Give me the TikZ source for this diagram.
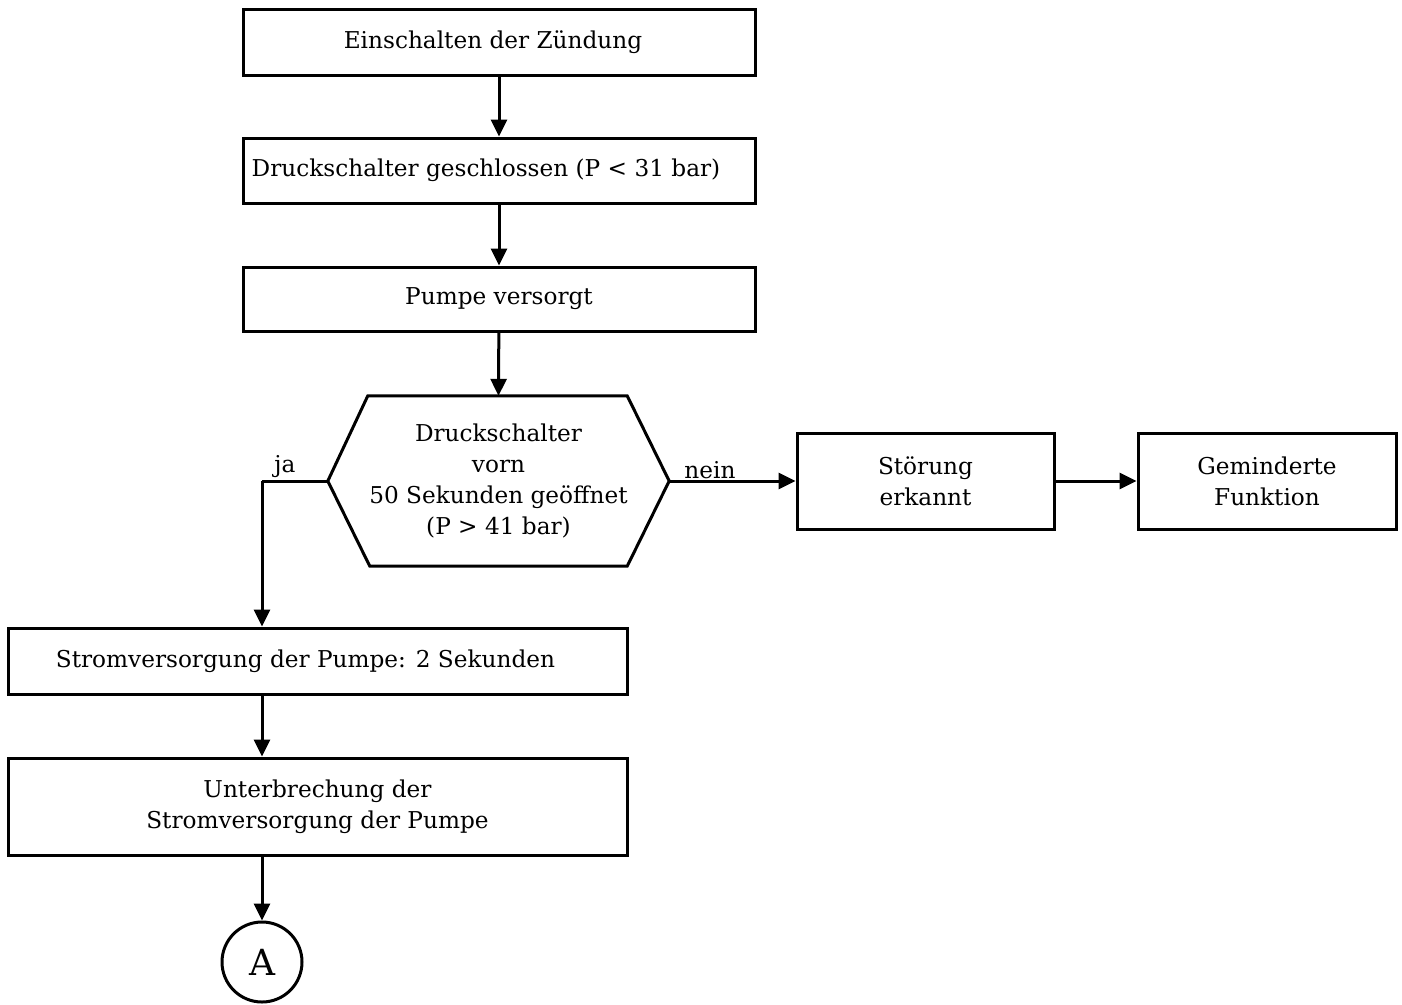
\documentclass[tikz,border=0pt]{standalone}
\usepackage{fontspec}
\setmainfont{DejaVu Serif}
\usepackage{tikz}
\usetikzlibrary{arrows.meta,positioning}
\usepackage{xcolor}
\tikzstyle{stepbox} = [draw, line width=3pt, rectangle, align=center, inner sep=0pt]
\tikzstyle{arrow} = [line width=3pt, -{Triangle[length=17pt,width=16pt]}]
\tikzstyle{line} = [line width=3pt]

\begin{document}
\begin{tikzpicture}[x=1pt, y=-1pt, font=\fontsize{23.2}{31}\selectfont]
\useasboundingbox (0,0) rectangle (1402,1004);

% Main chain
\node[stepbox, minimum width=512pt, minimum height=66pt] (zuend) at (499,42) {Einschalten der Zündung\hspace{12pt}};
\node[stepbox, minimum width=512pt, minimum height=65pt] (geschl) at (499,170.5) {Druckschalter geschlossen (P < 31 bar)\hspace{26pt}};
\node[stepbox, minimum width=512pt, minimum height=64pt] (pumpe) at (499,299) {Pumpe versorgt};

% Decision
\node[align=center, minimum width=341pt, minimum height=170pt, inner sep=0pt] (dec) at (498.5,481)
  {Druckschalter\\vorn\\50 Sekunden geöffnet\\(P > 41 bar)};
\draw[line] (dec.west) -- ([xshift=40pt]dec.north west) -- ([xshift=-42pt]dec.north east)
  -- (dec.east) -- ([xshift=-42pt]dec.south east) -- ([xshift=42pt]dec.south west) -- cycle;

% nein branch
\node[stepbox, minimum width=257pt, minimum height=96pt] (stoer) at (925.5,481) {Störung\\erkannt};
\node[stepbox, minimum width=258pt, minimum height=96pt] (gemind) at (1267,481) {Geminderte\\Funktion};

% ja branch
\coordinate (jaC) at (262,481);
\node[stepbox, minimum width=619pt, minimum height=66pt] (strom) at (317.5,661) {Stromversorgung der Pumpe: 2 Sekunden\hspace{24pt}};
\node[stepbox, minimum width=619pt, minimum height=97pt] (unterbr) at (317.5,806.5) {Unterbrechung der\\Stromversorgung der Pumpe};
\node[draw, line width=3pt, circle, minimum size=80pt, inner sep=0pt, font=\fontsize{36}{36}\selectfont] (conA) at (262,962) {A};

% Connectors
\draw[arrow] (zuend) -- (geschl);
\draw[arrow] (geschl) -- (pumpe);
\draw[arrow] (pumpe) -- (dec.north);
\draw[arrow] (dec.east) -- (stoer.west);
\node[above] (nein) at (710,482) {nein};
\draw[arrow] (stoer) -- (gemind);
\draw[line] (dec.west) -- (jaC);
\node[above] (ja) at (285,481) {ja};
\draw[arrow] (jaC) -- (jaC |- strom.north);
\draw[arrow] (strom.south -| jaC) -- (unterbr.north -| jaC);
\draw[arrow] (unterbr.south -| jaC) -- (conA);
\end{tikzpicture}
\end{document}
